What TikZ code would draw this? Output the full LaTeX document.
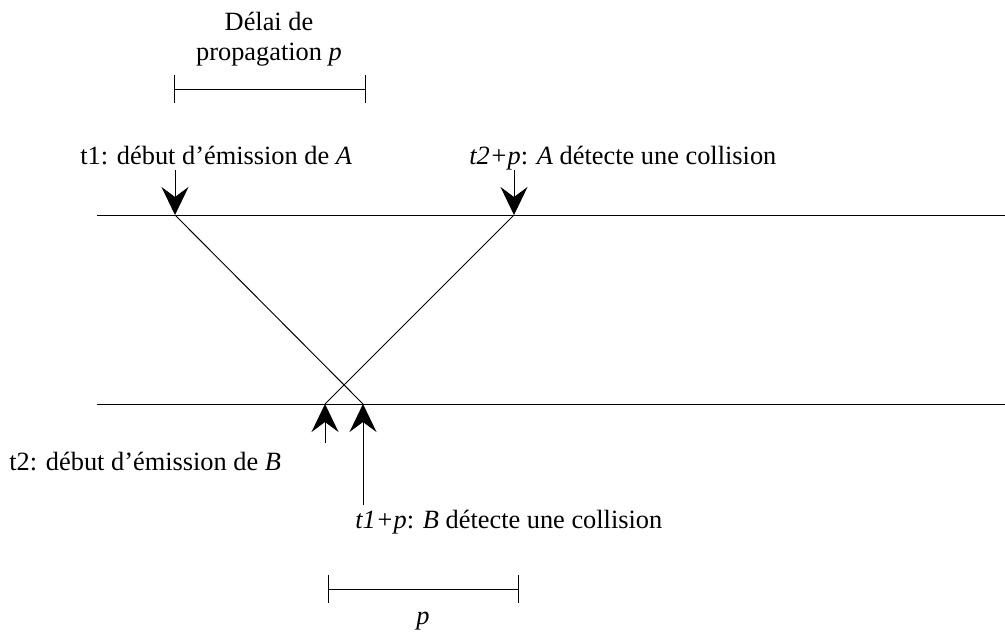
\documentclass[tikz,border=0pt]{standalone}
\usepackage{fontspec}
\setmainfont{Liberation Serif}
\usetikzlibrary{arrows.meta}

\begin{document}
\begin{tikzpicture}[
  x=0.2mm, y=-0.2mm, font=\fontsize{15}{17.6}\selectfont,
  wire/.style={line width=0.55pt},
  arr/.style={line width=0.55pt, -{Stealth[length=5.6mm, width=5.4mm, inset=2mm]}},
  bar/.style={line width=0.55pt, {Bar[width=5.6mm]}-{Bar[width=5.6mm]}},
  lab/.style={inner sep=0pt, anchor=base west}]
  \useasboundingbox (0,0) rectangle (1005,632);
  % the two stations' lines
  \coordinate (la) at (97,215);  \coordinate (ra) at (1005,215);
  \coordinate (lb) at (97,404);  \coordinate (rb) at (1005,404);
  \draw[wire] (la) -- (ra);
  \draw[wire] (lb) -- (rb);
  % emission points and detections
  \coordinate (t1) at (175,215);   \coordinate (t2p) at (514,215);
  \coordinate (t2) at (325,404);   \coordinate (t1p) at (363,404);
  \draw[wire] (t1) -- (t1p);
  \draw[wire] (t2p) -- (t2);
  % labels
  \node[lab] (lt1) at (80,165) {t1: début d'émission de \textit{A}};
  \node[lab] (lt2p) at (469,165) {\textit{t2+p}: \textit{A} détecte une collision};
  \node[lab] (lt2) at (9,470) {t2: début d'émission de \textit{B}};
  \node[lab] (lt1p) at (355,528) {\textit{t1+p}: \textit{B} détecte une collision};
  \coordinate (s1) at (175,170);  \coordinate (s2) at (514,170);
  \coordinate (s3) at (325,443);  \coordinate (s4) at (363,505);
  \draw[arr] (s1) -- (t1);
  \draw[arr] (s2) -- (t2p);
  \draw[arr] (s3) -- (t2);
  \draw[arr] (s4) -- (t1p);
  % propagation delay
  \node[align=center, inner sep=0pt, anchor=base] (delai) at (269,61) {Délai de\\propagation \textit{p}};
  \coordinate (d1) at (174,89);  \coordinate (d2) at (366,89);
  \draw[bar] (d1) -- (d2);
  \coordinate (e1) at (328,589);  \coordinate (e2) at (519,589);
  \draw[bar] (e1) -- (e2);
  \node[inner sep=0pt, anchor=base] (pp) at (423,624) {\textit{p}};
\end{tikzpicture}
\end{document}
